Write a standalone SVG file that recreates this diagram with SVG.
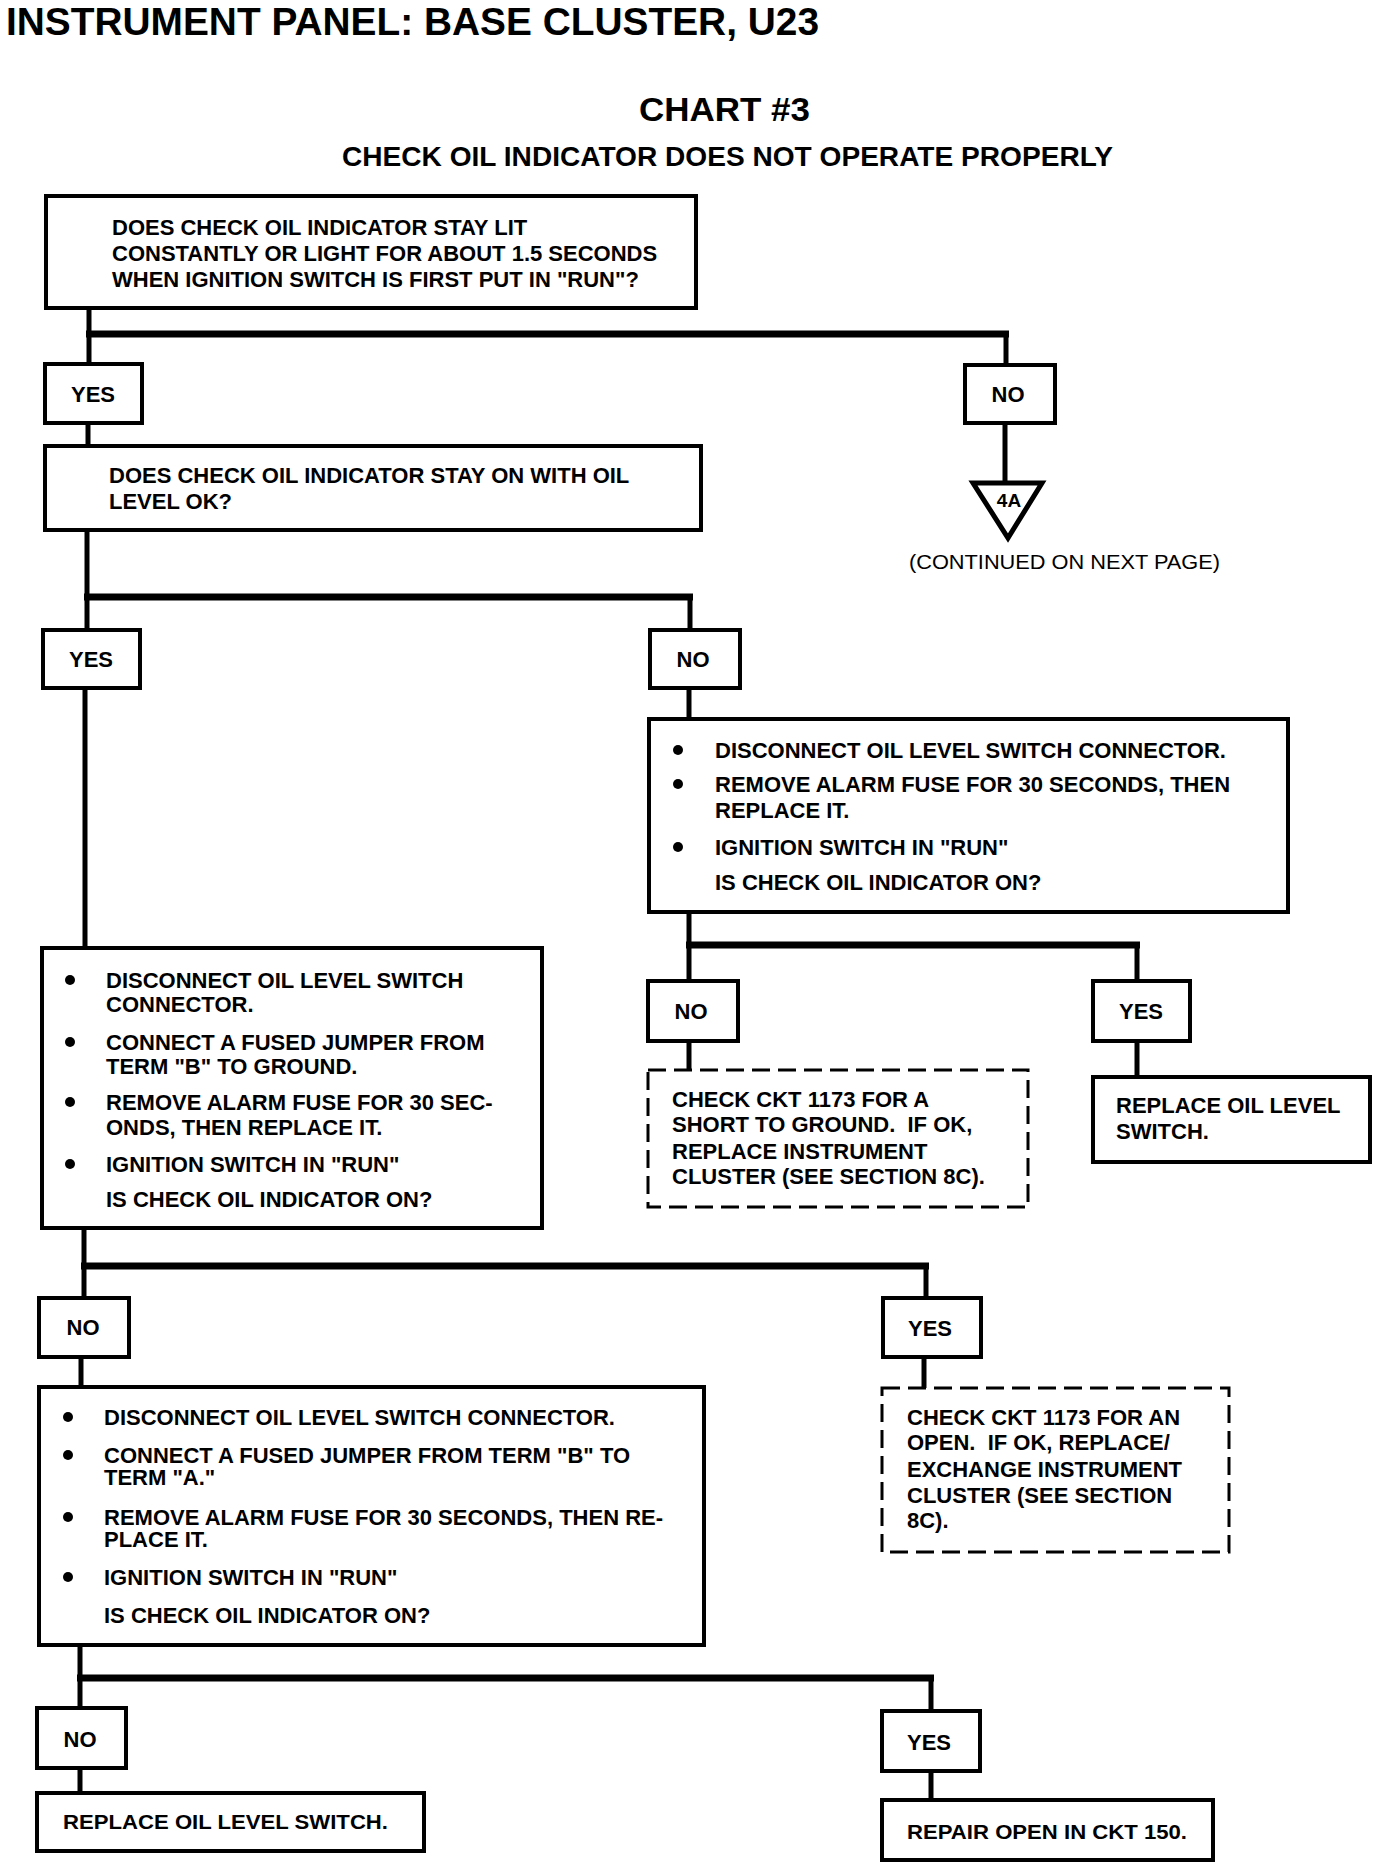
<svg xmlns="http://www.w3.org/2000/svg" width="1376" height="1868" viewBox="0 0 1376 1868">
<style>
.bg{fill:#fff}
.box{fill:#fff;stroke:#000;stroke-width:4}
.dash{fill:#fff;stroke:#000;stroke-width:3;stroke-dasharray:18 8}
.t{font-family:"Liberation Sans",Arial,Helvetica,sans-serif;font-weight:bold;font-size:22px;fill:#000}
.lbl{font-family:"Liberation Sans",Arial,Helvetica,sans-serif;font-weight:bold;font-size:22px;fill:#000;text-anchor:middle}
.v{fill:none;stroke:#000;stroke-width:5}
.h{fill:none;stroke:#000;stroke-width:7}
.dot{fill:#000}
</style>
<rect class="bg" x="0" y="0" width="1376" height="1868"/>
<g id="title">
<text x="6" y="35" class="t" style="font-size:38px" textLength="813" lengthAdjust="spacingAndGlyphs">INSTRUMENT PANEL: BASE CLUSTER, U23</text>
<text x="639" y="121" class="t" style="font-size:33px" textLength="171" lengthAdjust="spacingAndGlyphs">CHART #3</text>
<text x="342" y="166" class="t" style="font-size:27px" textLength="771" lengthAdjust="spacingAndGlyphs">CHECK OIL INDICATOR DOES NOT OPERATE PROPERLY</text>
</g>
<g id="connectors">
<path class="v" d="M89 308V364"/>
<path class="h" d="M86 334H1009"/>
<path class="v" d="M1006 334V365"/>
<path class="v" d="M88 423V446"/>
<path class="v" d="M1005 423V483"/>
<path class="v" d="M87 530V630"/>
<path class="h" d="M84 597H693"/>
<path class="v" d="M690 597V630"/>
<path class="v" d="M85 688V948"/>
<path class="v" d="M689 688V719"/>
<path class="v" d="M689 912V981"/>
<path class="h" d="M686 945H1140"/>
<path class="v" d="M1137 945V981"/>
<path class="v" d="M689 1041V1070"/>
<path class="v" d="M1137 1041V1077"/>
<path class="v" d="M84 1228V1298"/>
<path class="h" d="M81 1266H929"/>
<path class="v" d="M926 1266V1298"/>
<path class="v" d="M81 1357V1387"/>
<path class="v" d="M924 1357V1388"/>
<path class="v" d="M80 1645V1708"/>
<path class="h" d="M77 1678H934"/>
<path class="v" d="M931 1678V1711"/>
<path class="v" d="M80 1768V1793"/>
<path class="v" d="M931 1771V1800"/>
</g>
<g id="q1">
<rect class="box" x="46" y="196" width="650" height="112"/>
<text class="t" x="112" y="235">DOES CHECK OIL INDICATOR STAY LIT</text>
<text class="t" x="112" y="261">CONSTANTLY OR LIGHT FOR ABOUT 1.5 SECONDS</text>
<text class="t" x="112" y="287">WHEN IGNITION SWITCH IS FIRST PUT IN "RUN"?</text>
</g>
<g id="yes1"><rect class="box" x="45" y="364" width="97" height="59"/><text class="lbl" x="93" y="402">YES</text></g>
<g id="no1"><rect class="box" x="965" y="365" width="90" height="58"/><text class="lbl" x="1008" y="402">NO</text></g>
<g id="goto4a">
<polygon points="973,483 1042,483 1008,538" fill="#fff" stroke="#000" stroke-width="5" stroke-linejoin="miter"/>
<text class="lbl" x="1009" y="507" style="font-size:19px">4A</text>
<text x="909" y="569" style="font-family:'Liberation Sans',Arial,sans-serif;font-size:21px;fill:#000" textLength="311" lengthAdjust="spacingAndGlyphs">(CONTINUED ON NEXT PAGE)</text>
</g>
<g id="q2">
<rect class="box" x="45" y="446" width="656" height="84"/>
<text class="t" x="109" y="483">DOES CHECK OIL INDICATOR STAY ON WITH OIL</text>
<text class="t" x="109" y="509">LEVEL OK?</text>
</g>
<g id="yes2"><rect class="box" x="43" y="630" width="97" height="58"/><text class="lbl" x="91" y="667">YES</text></g>
<g id="no2"><rect class="box" x="650" y="630" width="90" height="58"/><text class="lbl" x="693" y="667">NO</text></g>
<g id="q3">
<rect class="box" x="42" y="948" width="500" height="280"/>
<circle class="dot" cx="70" cy="980" r="5"/>
<text class="t" x="106" y="988">DISCONNECT OIL LEVEL SWITCH</text>
<text class="t" x="106" y="1012">CONNECTOR.</text>
<circle class="dot" cx="70" cy="1042" r="5"/>
<text class="t" x="106" y="1050">CONNECT A FUSED JUMPER FROM</text>
<text class="t" x="106" y="1074">TERM "B" TO GROUND.</text>
<circle class="dot" cx="70" cy="1102" r="5"/>
<text class="t" x="106" y="1110">REMOVE ALARM FUSE FOR 30 SEC-</text>
<text class="t" x="106" y="1135">ONDS, THEN REPLACE IT.</text>
<circle class="dot" cx="70" cy="1164" r="5"/>
<text class="t" x="106" y="1172">IGNITION SWITCH IN "RUN"</text>
<text class="t" x="106" y="1207">IS CHECK OIL INDICATOR ON?</text>
</g>
<g id="q4">
<rect class="box" x="649" y="719" width="639" height="193"/>
<circle class="dot" cx="678" cy="750" r="5"/>
<text class="t" x="715" y="758">DISCONNECT OIL LEVEL SWITCH CONNECTOR.</text>
<circle class="dot" cx="678" cy="784" r="5"/>
<text class="t" x="715" y="792">REMOVE ALARM FUSE FOR 30 SECONDS, THEN</text>
<text class="t" x="715" y="818">REPLACE IT.</text>
<circle class="dot" cx="678" cy="847" r="5"/>
<text class="t" x="715" y="855">IGNITION SWITCH IN "RUN"</text>
<text class="t" x="715" y="890">IS CHECK OIL INDICATOR ON?</text>
</g>
<g id="no3"><rect class="box" x="648" y="981" width="90" height="60"/><text class="lbl" x="691" y="1019">NO</text></g>
<g id="yes3"><rect class="box" x="1093" y="981" width="97" height="60"/><text class="lbl" x="1141" y="1019">YES</text></g>
<g id="r5">
<rect class="dash" x="648" y="1070" width="380" height="137"/>
<text class="t" x="672" y="1107">CHECK CKT 1173 FOR A</text>
<text class="t" x="672" y="1132" xml:space="preserve">SHORT TO GROUND.  IF OK,</text>
<text class="t" x="672" y="1159">REPLACE INSTRUMENT</text>
<text class="t" x="672" y="1184">CLUSTER (SEE SECTION 8C).</text>
</g>
<g id="r6">
<rect class="box" x="1093" y="1077" width="277" height="85"/>
<text class="t" x="1116" y="1113">REPLACE OIL LEVEL</text>
<text class="t" x="1116" y="1139">SWITCH.</text>
</g>
<g id="no4"><rect class="box" x="39" y="1298" width="90" height="59"/><text class="lbl" x="83" y="1335">NO</text></g>
<g id="yes4"><rect class="box" x="883" y="1298" width="98" height="59"/><text class="lbl" x="930" y="1336">YES</text></g>
<g id="q7">
<rect class="box" x="39" y="1387" width="665" height="258"/>
<circle class="dot" cx="68" cy="1417" r="5"/>
<text class="t" x="104" y="1425">DISCONNECT OIL LEVEL SWITCH CONNECTOR.</text>
<circle class="dot" cx="68" cy="1455" r="5"/>
<text class="t" x="104" y="1463">CONNECT A FUSED JUMPER FROM TERM "B" TO</text>
<text class="t" x="104" y="1485">TERM "A."</text>
<circle class="dot" cx="68" cy="1517" r="5"/>
<text class="t" x="104" y="1525">REMOVE ALARM FUSE FOR 30 SECONDS, THEN RE-</text>
<text class="t" x="104" y="1547">PLACE IT.</text>
<circle class="dot" cx="68" cy="1577" r="5"/>
<text class="t" x="104" y="1585">IGNITION SWITCH IN "RUN"</text>
<text class="t" x="104" y="1623">IS CHECK OIL INDICATOR ON?</text>
</g>
<g id="r8">
<rect class="dash" x="882" y="1388" width="347" height="164"/>
<text class="t" x="907" y="1425">CHECK CKT 1173 FOR AN</text>
<text class="t" x="907" y="1450" xml:space="preserve">OPEN.  IF OK, REPLACE/</text>
<text class="t" x="907" y="1477">EXCHANGE INSTRUMENT</text>
<text class="t" x="907" y="1503">CLUSTER (SEE SECTION</text>
<text class="t" x="907" y="1528">8C).</text>
</g>
<g id="no5"><rect class="box" x="37" y="1708" width="89" height="60"/><text class="lbl" x="80" y="1747">NO</text></g>
<g id="yes5"><rect class="box" x="882" y="1711" width="98" height="60"/><text class="lbl" x="929" y="1750">YES</text></g>
<g id="r9">
<rect class="box" x="37" y="1793" width="387" height="58"/>
<text class="t" x="63" y="1829" style="font-size:21px" textLength="325" lengthAdjust="spacingAndGlyphs">REPLACE OIL LEVEL SWITCH.</text>
</g>
<g id="r10">
<rect class="box" x="882" y="1800" width="331" height="60"/>
<text class="t" x="907" y="1839" style="font-size:21px" textLength="280" lengthAdjust="spacingAndGlyphs">REPAIR OPEN IN CKT 150.</text>
</g>
</svg>
